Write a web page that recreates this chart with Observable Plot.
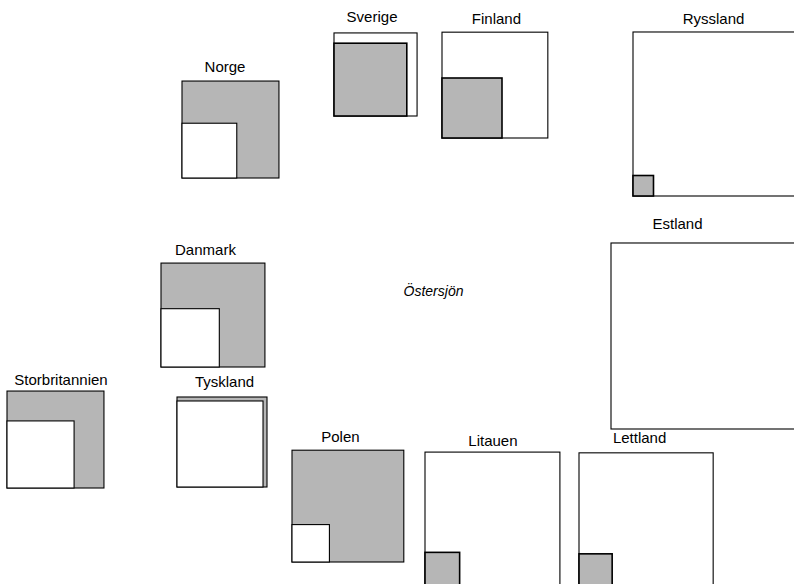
<!DOCTYPE html>
<html>
<head>
<meta charset="utf-8">
<script src="https://cdn.jsdelivr.net/npm/d3@7"></script>
<script src="https://cdn.jsdelivr.net/npm/@observablehq/plot@0.6"></script>
<style>
  html, body { margin: 0; padding: 0; background: #fff; }
  #chart svg { display: block; }
</style>
</head>
<body>
<div id="chart"></div>
<script>
// Countries and their two values (area-proportional squares)
const countries  = ["Norge","Sverige","Finland","Ryssland","Estland","Danmark","Tyskland","Storbritannien","Polen","Litauen","Lettland"];
const grayValue  = [94, 53, 36, 4.2, 0, 108, 81, 94, 125, 12, 11];
const whiteValue = [30, 69, 112, 269, 346, 34, 74, 45, 14, 182, 180];

// Map layout: lower-left corner of each country's square (map coordinates)
const mapX = [182, 334, 442, 633, 611, 161, 177, 7, 292, 425, 579];
const mapY = [178, 116, 138, 196, 429, 367, 487, 488, 562, 587, 587];
// Label nudges relative to the square's top centre
const labelDx = [-6, -4, 1, -2, -27, -8, 2, 5, -8, 0, -7];
const labelDy = [14, 16, 13, 13, 19, 13, 15, 11, 14, 11, 15];

const seaLabel = {name: "Östersjön", x: 433, y: 291};

const W = 794, H = 584;
const side = v => Math.sqrt(v) * 10;

const rows = countries.map((c, i) => ({
  name: c, x: mapX[i], y: mapY[i], gray: grayValue[i], white: whiteValue[i],
  dx: labelDx[i], dy: labelDy[i]
}));

const squares = [];
for (const r of rows) {
  const big = r.gray >= r.white ? "gray" : "white";
  const small = big === "gray" ? "white" : "gray";
  squares.push({name: r.name, layer: 0, kind: big, x: r.x, y: r.y, s: side(r[big])});
  if (r[small] > 0) squares.push({name: r.name, layer: 1, kind: small, x: r.x, y: r.y, s: side(r[small])});
}
const maxTop = new Map(rows.map(r => [r.name, side(Math.max(r.gray, r.white))]));

const rectOpts = (layer, kind) => ({
  filter: d => d.layer === layer && d.kind === kind,
  x1: d => d.x, x2: d => d.x + d.s,
  y1: d => d.y - d.s, y2: d => d.y,
  fill: kind === "gray" ? "url(#dots)" : "white",
  stroke: "black",
  strokeWidth: kind === "gray" && layer === 1 ? 1.6 : 1.1
});

const chart = Plot.plot({
  width: W, height: H,
  margin: 0,
  x: {domain: [0, W], range: [0, W], axis: null},
  y: {domain: [0, H], range: [0, H], axis: null},
  style: {fontFamily: "'Liberation Sans', Arial, sans-serif", background: "white"},
  marks: [
    Plot.rect(squares, rectOpts(0, "gray")),
    Plot.rect(squares, rectOpts(0, "white")),
    Plot.rect(squares, rectOpts(1, "gray")),
    Plot.rect(squares, rectOpts(1, "white")),
    Plot.text(rows, {
      x: d => d.x + maxTop.get(d.name) / 2 + d.dx,
      y: d => d.y - maxTop.get(d.name) - d.dy,
      text: "name", fontSize: 15, fill: "black", textAnchor: "middle"
    }),
    Plot.text([seaLabel], {
      x: "x", y: "y", text: "name", fontSize: 14, fontStyle: "italic",
      fill: "black", textAnchor: "middle"
    })
  ]
});

// dotted raster pattern, aligned to the pixel grid
const ns = "http://www.w3.org/2000/svg";
const defs = document.createElementNS(ns, "defs");
defs.innerHTML = `<pattern id="dots" width="2" height="2" patternUnits="userSpaceOnUse" patternTransform="translate(-0.5,-0.5)">
  <rect width="2" height="2" fill="#f2f2f2"/>
  <rect x="0" y="0" width="1" height="1" fill="#7a7a7a"/>
  <rect x="1" y="1" width="1" height="1" fill="#7a7a7a"/>
</pattern>`;
chart.insertBefore(defs, chart.firstChild);

document.getElementById("chart").appendChild(chart);
</script>
</body>
</html>
